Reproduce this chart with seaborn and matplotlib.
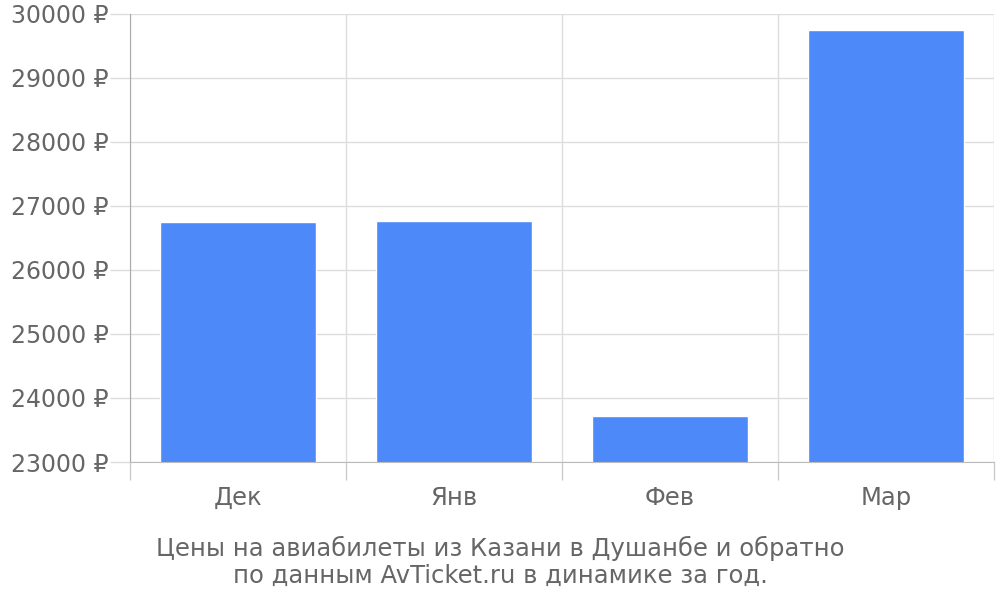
import numpy as np
import pandas as pd
import matplotlib.pyplot as plt
import seaborn as sns
from matplotlib.ticker import FixedLocator

months = ["Дек", "Янв", "Фев", "Мар"]
prices = [26750, 26770, 23715, 29750]
y_ticks = [23000, 24000, 25000, 26000, 27000, 28000, 29000, 30000]
caption = "Цены на авиабилеты из Казани в Душанбе и обратно\nпо данным AvTicket.ru в динамике за год."

df = pd.DataFrame({"month": months, "price": prices})

sns.set_style("white")
plt.rcParams["font.family"] = ["DejaVu Sans"]

fig = plt.figure(figsize=(10, 6), dpi=100)
ax = fig.add_axes([0.13, 0.23, 0.864, 0.7467])

sns.barplot(data=df, x="month", y="price", color="#4e89f9", saturation=1,
            width=0.72, ax=ax)

ax.set_xlim(-0.5, len(months) - 0.5)
ax.set_ylim(y_ticks[0], y_ticks[-1])
ax.set_yticks(y_ticks)
ax.set_yticklabels([f"{v} ₽" for v in y_ticks])
ax.set_xlabel("")
ax.set_ylabel("")

# category boundaries as minor ticks + vertical grid
ax.xaxis.set_minor_locator(FixedLocator(np.arange(-0.5, len(months), 1.0)))
ax.tick_params(axis="x", which="both", bottom=True)
ax.tick_params(axis="y", left=True)
ax.tick_params(axis="x", which="major", length=0, pad=17.5, labelsize=17.5, labelcolor="#666666")
ax.tick_params(axis="x", which="minor", length=13, color="#cccccc", width=1)
ax.tick_params(axis="y", length=14.4, color="#dddddd", width=1, pad=1,
               labelsize=17, labelcolor="#666666")
ax.grid(axis="y", color="#dddddd", linewidth=1)
ax.grid(axis="x", which="minor", color="#dddddd", linewidth=1)
ax.set_axisbelow(True)

for side in ["top", "right"]:
    ax.spines[side].set_visible(False)
ax.spines["left"].set_color("#aaaaaa")
ax.spines["bottom"].set_color("#bbbbbb")

fig.text(0.5, 0.064, caption, ha="center", va="center", fontsize=17.5,
         color="#666666", linespacing=1.15)

fig.savefig("out.png", dpi=100)
